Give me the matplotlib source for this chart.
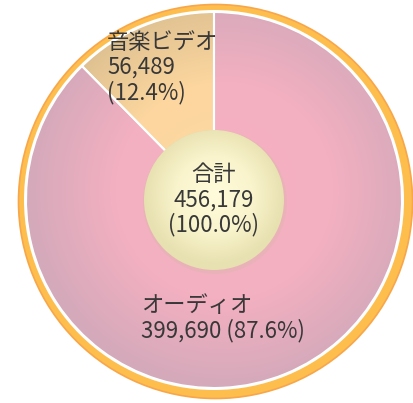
import numpy as np
import matplotlib.pyplot as plt
from matplotlib.patches import Circle
from matplotlib.colors import LinearSegmentedColormap

plt.rcParams['font.family'] = ['Noto Sans CJK JP', 'DejaVu Sans']

# データ
labels = ['音楽ビデオ', 'オーディオ']
values = [56489, 399690]
total = sum(values)
total_label = '合計'

slice_colors = [('#fed9a2', '#fcd69e', '#dcbf90'), ('#f6b0c2', '#f3b0c1', '#d4a9ba')]

W, H = 414, 403
cx, cy = 214, 203
R = 188

fig = plt.figure(figsize=(W / 100, H / 100), dpi=100)
ax = fig.add_axes([0, 0, 1, 1])

# 外側のリング
ax.add_patch(Circle((cx + 1.5, cy - 1.5), R + 9, facecolor='#fdbe4e',
                    edgecolor='#f8a64a', linewidth=1.2, zorder=1))
ax.add_patch(Circle((cx, cy), R + 2, facecolor='white', edgecolor='none', zorder=2))

wedges, _ = ax.pie(values, startangle=90, counterclock=True, radius=R,
                   center=(cx, cy),
                   wedgeprops=dict(edgecolor='white', linewidth=1.5, zorder=3))

# 放射グラデーション
yy, xx = np.mgrid[0:H, 0:W]
for w, cols in zip(wedges, slice_colors):
    d = np.hypot(xx - (cx + 10), (H - yy) - (cy + 10)) / (R * 1.05)
    cmap = LinearSegmentedColormap.from_list('g', [(0, cols[0]), (0.55, cols[1]), (1, cols[2])])
    im = ax.imshow(np.clip(d, 0, 1), cmap=cmap, vmin=0, vmax=1,
                   extent=(0, W, 0, H), origin='upper', zorder=3.5)
    im.set_clip_path(w)
    w.set_facecolor('none')
    w.set_zorder(4)

# 中央の円
rc = 70
ax.add_patch(Circle((cx + 1, cy - 2), rc + 2, facecolor='#d8b8a8', alpha=0.35,
                    edgecolor='none', zorder=4.5))
inner = Circle((cx, cy), rc, facecolor='none', edgecolor='none', zorder=5)
ax.add_patch(inner)
d = np.hypot(xx - cx, (H - yy) - (cy + 6)) / rc
cmap = LinearSegmentedColormap.from_list('c', [(0, '#fffcdc'), (0.55, '#f9f4cc'),
                                               (1, '#e7e0b0')])
im = ax.imshow(np.clip(d, 0, 1), cmap=cmap, vmin=0, vmax=1,
               extent=(0, W, 0, H), origin='upper', zorder=5)
im.set_clip_path(inner)

txt = dict(color='#383838', fontsize=16, zorder=6, linespacing=1.1)
ax.text(107, H - 31, f'{labels[0]}\n{values[0]:,}\n({values[0] / total * 100:.1f}%)',
        ha='left', va='top', **txt)
ax.text(141, H - 294, f'{labels[1]}\n{values[1]:,} ({values[1] / total * 100:.1f}%)',
        ha='left', va='top', **txt)
ax.text(cx, cy, f'{total_label}\n{total:,}\n(100.0%)', ha='center', va='center', **txt)

ax.set_xlim(0, W)
ax.set_ylim(0, H)
ax.set_aspect('auto')
ax.axis('off')

fig.savefig('out.png', dpi=100)
